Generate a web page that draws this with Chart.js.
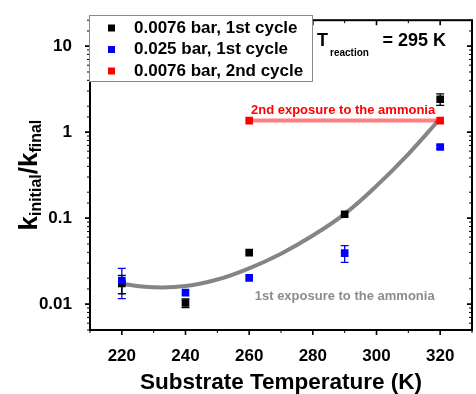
<!DOCTYPE html>
<html>
<head>
<meta charset="utf-8">
<script src="https://cdn.jsdelivr.net/npm/chart.js@4"></script>
<style>
  html, body { margin: 0; padding: 0; background: #fff; overflow: hidden; }
  #wrap { width: 480px; height: 394px; }
</style>
</head>
<body>
<div id="wrap"><canvas id="chart" width="480" height="394"></canvas></div>
<script>
const FONT = "'Liberation Sans', Arial, sans-serif";

// substrate temperatures (K)
const temps = [220, 240, 260, 290, 320];
// 0.0076 bar, 1st cycle
const lowP1st = [0.0174, 0.0103, 0.0397, 0.111, 2.41];
const lowP1stErr = [0.0042, 0.0012, 0, 0, 0.37];
// 0.025 bar, 1st cycle
const highP1st = [0.0188, 0.0136, 0.0202, 0.0392, 0.67];
const highP1stErr = [0.0072, 0, 0, 0.0087, 0.03];
// 0.0076 bar, 2nd cycle
const temps2nd = [260, 320];
const lowP2nd = [1.36, 1.36];
// grey guide curve
const fitTemps = [220, 230, 240, 250, 260, 270, 280, 290, 300, 310, 320];
const fitValues = [0.0171, 0.0157, 0.0162, 0.0193, 0.0261, 0.0386, 0.0627, 0.112, 0.237, 0.556, 1.44];

const xLabelValues = [220, 240, 260, 280, 300, 320];
const yLabelValues = [0.01, 0.1, 1, 10];

const toPoints = (xs, ys) => xs.map((x, i) => ({ x: x, y: ys[i] }));

const legendItems = [
  { text: '0.0076 bar, 1st cycle', color: '#000000' },
  { text: '0.025 bar, 1st cycle', color: '#0000ff' },
  { text: '0.0076 bar, 2nd cycle', color: '#ff0000' },
];

const notes = [
  { text: '2nd exposure to the ammonia', x: 289.5, y: 1.78, color: '#ff0000' },
  { text: '1st exposure to the ammonia', x: 290, y: 0.01225, color: '#8c8c8c' },
];

const isMajorY = v => yLabelValues.some(m => Math.abs(v - m) / m < 1e-6);

// error bars under the squares
const errorBars = {
  id: 'errorBars',
  beforeDatasetsDraw(chart) {
    const ctx = chart.ctx;
    const y = chart.scales.y;
    chart.data.datasets.forEach((ds, i) => {
      if (!ds.errors) return;
      const meta = chart.getDatasetMeta(i);
      ctx.save();
      ctx.strokeStyle = ds.backgroundColor;
      ctx.lineWidth = 1.3;
      meta.data.forEach((pt, j) => {
        const e = ds.errors[j];
        if (!e) return;
        const v = ds.data[j].y;
        const top = y.getPixelForValue(v + e);
        const bot = y.getPixelForValue(v - e);
        ctx.beginPath();
        ctx.moveTo(pt.x, top); ctx.lineTo(pt.x, bot);
        ctx.moveTo(pt.x - 4, top); ctx.lineTo(pt.x + 4, top);
        ctx.moveTo(pt.x - 4, bot); ctx.lineTo(pt.x + 4, bot);
        ctx.stroke();
      });
      ctx.restore();
    });
  }
};

// frame, ticks, titles, notes, legend
const decorations = {
  id: 'decorations',
  afterDraw(chart) {
    const { ctx, chartArea: a, scales: { x, y } } = chart;
    ctx.save();
    ctx.strokeStyle = '#000';

    // y ticks: outward on the left, inward on the right
    y.ticks.forEach(t => {
      const py = y.getPixelForValue(t.value);
      const major = isMajorY(t.value);
      const len = major ? 5 : 3;
      ctx.lineWidth = major ? 1.6 : 1;
      ctx.beginPath();
      ctx.moveTo(a.left - len, py); ctx.lineTo(a.left, py);
      ctx.moveTo(a.right, py); ctx.lineTo(a.right - len, py);
      ctx.stroke();
    });
    // x ticks: outward at the bottom, inward at the top
    x.ticks.forEach(t => {
      const px = x.getPixelForValue(t.value);
      const major = xLabelValues.includes(t.value);
      const len = major ? 5 : 3;
      ctx.lineWidth = major ? 1.6 : 1;
      ctx.beginPath();
      ctx.moveTo(px, a.bottom); ctx.lineTo(px, a.bottom + len);
      ctx.moveTo(px, a.top); ctx.lineTo(px, a.top + len);
      ctx.stroke();
    });
    ctx.lineWidth = 2;
    ctx.strokeRect(a.left, a.top, a.right - a.left, a.bottom - a.top);

    // y title with subscripts
    const parts = [['k', 26, 0], ['initial', 16, 4], ['/k', 26, 0], ['final', 16, 4]];
    let total = 0;
    parts.forEach(p => { ctx.font = `bold ${p[1]}px ${FONT}`; p.w = ctx.measureText(p[0]).width; total += p.w; });
    ctx.save();
    ctx.translate(37, (a.top + a.bottom) / 2);
    ctx.rotate(-Math.PI / 2);
    ctx.fillStyle = '#000';
    ctx.textBaseline = 'alphabetic';
    let ux = -total / 2;
    parts.forEach(p => { ctx.font = `bold ${p[1]}px ${FONT}`; ctx.fillText(p[0], ux, p[2]); ux += p.w; });
    ctx.restore();

    // T_reaction label
    ctx.fillStyle = '#000';
    ctx.textBaseline = 'alphabetic';
    ctx.textAlign = 'left';
    ctx.font = `bold 18px ${FONT}`;
    ctx.fillText('T', 317, 45.5);
    ctx.font = `bold 10px ${FONT}`;
    ctx.fillText('reaction', 330, 56);
    ctx.font = `bold 18px ${FONT}`;
    ctx.fillText('= 295 K', 382.5, 45.5);

    // notes
    ctx.font = `bold 13px ${FONT}`;
    ctx.textAlign = 'center';
    ctx.textBaseline = 'middle';
    notes.forEach(n => {
      ctx.fillStyle = n.color;
      ctx.fillText(n.text, x.getPixelForValue(n.x), y.getPixelForValue(n.y));
    });

    // legend box
    ctx.fillStyle = '#fff';
    ctx.fillRect(89.5, 15.5, 223, 66);
    ctx.strokeStyle = '#8a8a8a';
    ctx.lineWidth = 1;
    ctx.strokeRect(89.5, 15.5, 223, 66);
    ctx.font = `bold 17px ${FONT}`;
    ctx.textAlign = 'left';
    legendItems.forEach((it, i) => {
      const cy = 28 + i * 21.5;
      ctx.fillStyle = it.color;
      ctx.fillRect(108, cy - 3.5, 7, 7);
      ctx.fillStyle = '#000';
      ctx.fillText(it.text, 134, cy);
    });
    ctx.restore();
  }
};

const squareStyle = { pointStyle: 'rect', pointRadius: 5.4, pointHoverRadius: 5.4, pointBorderWidth: 0 };

new Chart(document.getElementById('chart'), {
  type: 'scatter',
  data: {
    datasets: [
      Object.assign({ label: '0.025 bar, 1st cycle', data: toPoints(temps, highP1st), errors: highP1stErr,
        backgroundColor: '#0000ff', borderColor: '#0000ff', order: 1 }, squareStyle),
      Object.assign({ label: '0.0076 bar, 1st cycle', data: toPoints(temps, lowP1st), errors: lowP1stErr,
        backgroundColor: '#000000', borderColor: '#000000', order: 2 }, squareStyle),
      Object.assign({ label: '0.0076 bar, 2nd cycle', data: toPoints(temps2nd, lowP2nd), showLine: true,
        backgroundColor: '#ff0000', borderColor: 'rgba(255,0,0,0.5)', borderWidth: 4,
        pointBackgroundColor: '#ff0000', order: 3 }, squareStyle),
      { label: 'guide', data: toPoints(fitTemps, fitValues), showLine: true, borderColor: '#858585',
        borderWidth: 4, pointRadius: 0, tension: 0.4, order: 4 },
    ],
  },
  options: {
    responsive: false,
    animation: false,
    layout: { padding: { top: 15, right: 2, left: 0, bottom: 0 } },
    plugins: { legend: { display: false }, tooltip: { enabled: false } },
    scales: {
      x: {
        type: 'linear', min: 210, max: 330,
        grid: { display: false }, border: { display: false },
        ticks: {
          stepSize: 10, autoSkip: false, maxRotation: 0, padding: 8, color: '#000',
          font: { family: FONT, size: 17, weight: 'bold' },
          callback: v => xLabelValues.includes(v) ? String(v) : '',
        },
        title: { display: true, text: 'Substrate Temperature (K)', color: '#000', padding: 0,
          font: { family: FONT, size: 22.5, weight: 'bold', lineHeight: 1 } },
        afterFit: s => { s.height = 64; },
      },
      y: {
        type: 'logarithmic', min: 0.005, max: 20,
        grid: { display: false }, border: { display: false },
        ticks: {
          autoSkip: false, padding: 10, color: '#000',
          font: { family: FONT, size: 17, weight: 'bold' },
          callback: v => isMajorY(v) ? String(v) : '',
        },
        afterFit: s => { s.width = 90; },
      },
    },
  },
  plugins: [errorBars, decorations],
});
</script>
</body>
</html>
